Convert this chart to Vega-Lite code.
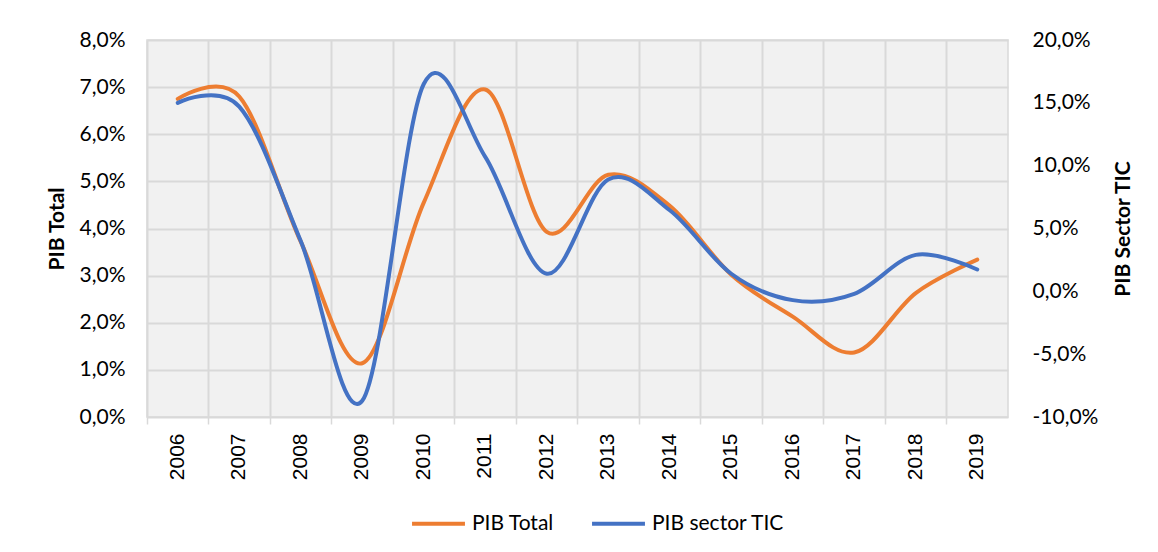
{
  "$schema": "https://vega.github.io/schema/vega-lite/v6.json",
  "width": 861,
  "height": 377,
  "autosize": "none",
  "padding": {"left": 147, "top": 40, "right": 150, "bottom": 135},
  "background": "white",
  "config": {
    "view": {"fill": "#f1f1f1", "stroke": "#d9d9d9", "strokeWidth": 1.5},
    "font": "Lato"
  },
  "data": {
    "values": [
      {"year": "2006", "total": 0.0675, "tic": 0.150},
      {"year": "2007", "total": 0.068, "tic": 0.147},
      {"year": "2008", "total": 0.0372, "tic": 0.040},
      {"year": "2009", "total": 0.0114, "tic": -0.087},
      {"year": "2010", "total": 0.0455, "tic": 0.165},
      {"year": "2011", "total": 0.0695, "tic": 0.107},
      {"year": "2012", "total": 0.0393, "tic": 0.014},
      {"year": "2013", "total": 0.0514, "tic": 0.089},
      {"year": "2014", "total": 0.0448, "tic": 0.0645},
      {"year": "2015", "total": 0.0302, "tic": 0.014},
      {"year": "2016", "total": 0.0213, "tic": -0.007},
      {"year": "2017", "total": 0.0137, "tic": -0.002},
      {"year": "2018", "total": 0.0263, "tic": 0.029},
      {"year": "2019", "total": 0.0334, "tic": 0.0174}
    ]
  },
  "layer": [
    {
      "mark": {"type": "line", "interpolate": "cardinal", "strokeWidth": 4, "strokeCap": "round"},
      "encoding": {
        "x": {
          "field": "year",
          "type": "ordinal",
          "scale": {"type": "band", "paddingInner": 0, "paddingOuter": 0},
          "axis": {
            "orient": "bottom",
            "bandPosition": 0,
            "labels": false,
            "title": null,
            "domain": false,
            "ticks": true,
            "tickSize": 7,
            "tickColor": "#d9d9d9",
            "tickWidth": 1.5,
            "grid": true,
            "gridColor": "#d9d9d9",
            "gridWidth": 2
          }
        },
        "y": {
          "field": "total",
          "type": "quantitative",
          "scale": {"domain": [0, 0.08], "nice": false, "zero": false},
          "axis": {
            "title": "PIB Total",
            "titleFont": "Lato",
            "titleFontSize": 21,
            "titleFontWeight": "bold",
            "titleColor": "#000000",
            "titlePadding": 12,
            "values": [0, 0.01, 0.02, 0.03, 0.04, 0.05, 0.06, 0.07, 0.08],
            "labelExpr": "replace(format(datum.value, '.1%'), '.', ',')",
            "labelFont": "Lato",
            "labelFontSize": 21,
            "labelColor": "#000000",
            "labelPadding": 22,
            "ticks": false,
            "domain": false,
            "grid": true,
            "gridColor": "#d9d9d9",
            "gridWidth": 2
          }
        },
        "color": {
          "datum": "PIB Total",
          "type": "nominal",
          "scale": {"domain": ["PIB Total", "PIB sector TIC"], "range": ["#ED7D31", "#4472C4"]},
          "legend": {
            "title": null,
            "orient": "none",
            "direction": "horizontal",
            "legendX": 263,
            "legendY": 455,
            "padding": 0,
            "symbolType": "stroke",
            "symbolSize": 2800,
            "symbolStrokeWidth": 4,
            "labelFont": "Lato",
            "labelFontSize": 21,
            "labelColor": "#000000",
            "labelOffset": 5,
            "columnPadding": 30
          }
        }
      }
    },
    {
      "mark": {"type": "line", "interpolate": "cardinal", "strokeWidth": 4, "strokeCap": "round"},
      "encoding": {
        "x": {
          "field": "year",
          "type": "ordinal",
          "scale": {"type": "band", "paddingInner": 0, "paddingOuter": 0},
          "axis": {
            "orient": "bottom",
            "title": null,
            "labelAngle": -90,
            "labelFont": "Liberation Sans",
            "labelFontSize": 21,
            "labelColor": "#000000",
            "labelPadding": 16,
            "ticks": false,
            "domain": false,
            "grid": false
          }
        },
        "y": {
          "field": "tic",
          "type": "quantitative",
          "scale": {"domain": [-0.1, 0.2], "nice": false, "zero": false},
          "axis": {
            "orient": "right",
            "title": "PIB Sector TIC",
            "titleAngle": 270,
            "titleFont": "Lato",
            "titleFontSize": 21,
            "titleFontWeight": "bold",
            "titleColor": "#000000",
            "titlePadding": 36,
            "values": [-0.1, -0.05, 0, 0.05, 0.1, 0.15, 0.2],
            "labelExpr": "replace(replace(format(datum.value, '.1%'), '.', ','), '−', '-')",
            "labelFont": "Lato",
            "labelFontSize": 21,
            "labelColor": "#000000",
            "labelPadding": 24,
            "ticks": false,
            "domain": false,
            "grid": false
          }
        },
        "color": {"datum": "PIB sector TIC", "type": "nominal"}
      }
    }
  ],
  "resolve": {"scale": {"y": "independent"}, "axis": {"x": "independent"}}
}
